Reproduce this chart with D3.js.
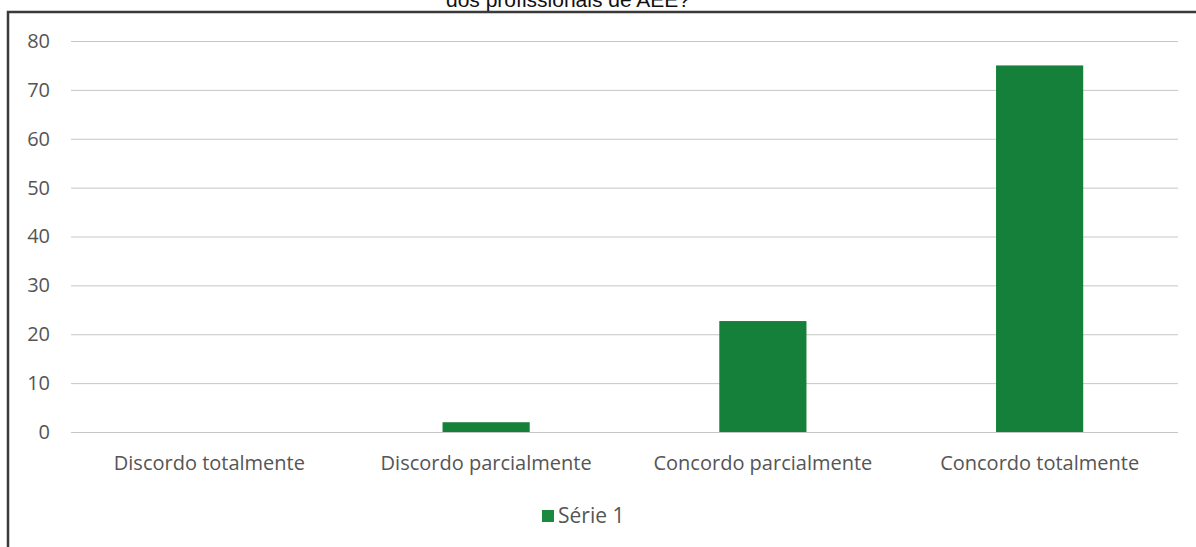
<!DOCTYPE html>
<html>
<head>
<meta charset="utf-8">
<script src="https://cdn.jsdelivr.net/npm/d3@7"></script>
<style>
  html, body { margin: 0; padding: 0; background: #fff; }
  svg { display: block; }
</style>
</head>
<body>
<svg id="chart" width="1196" height="547"></svg>
<script>
// Chart data
const categories = ["Discordo totalmente", "Discordo parcialmente", "Concordo parcialmente", "Concordo totalmente"];
const serie1 = [0, 2, 22.7, 75];
const yTicks = [0, 10, 20, 30, 40, 50, 60, 70, 80];
const seriesName = "Série 1";
const titleText = "dos profissionais de AEE?";

const W = 1196, H = 547;
const margin = { left: 71, right: 18, top: 41, bottom: 115 };
const svg = d3.select("#chart");
const font = "'Open Sans', 'Noto Sans', sans-serif";

// Frame around the chart area
svg.append("path")
  .attr("d", `M8,${H} L8,12 L${W},12`)
  .attr("fill", "none")
  .attr("stroke", "#3a3a3a")
  .attr("stroke-width", 2.5);

// Title (its upper part runs past the top edge)
svg.append("text")
  .attr("x", 568).attr("y", 7)
  .attr("text-anchor", "middle")
  .attr("font-family", "'Liberation Sans', Arial, sans-serif")
  .attr("font-size", 21)
  .attr("fill", "#111")
  .text(titleText);

const x = d3.scaleBand()
  .domain(categories)
  .range([margin.left, W - margin.right])
  .padding(0);

const y = d3.scaleLinear()
  .domain([0, 80])
  .range([H - margin.bottom, margin.top]);

// Gridlines and value axis labels
const yAxis = d3.axisLeft(y)
  .tickValues(yTicks)
  .tickSize(-(W - margin.right - margin.left))
  .tickPadding(21)
  .tickFormat(d3.format("d"));

const gy = svg.append("g")
  .attr("transform", `translate(${margin.left},0)`)
  .call(yAxis);
gy.select(".domain").remove();
gy.selectAll(".tick line").attr("stroke", "#c6c6c6").attr("stroke-width", 1);
gy.selectAll(".tick text")
  .attr("font-family", font)
  .attr("font-size", 20)
  .attr("fill", "#555");

// Bars
const barW = x.bandwidth() * 0.315;
svg.append("g").selectAll("rect")
  .data(categories.map((c, i) => ({ c, v: serie1[i] })))
  .join("rect")
  .attr("x", d => x(d.c) + x.bandwidth() / 2 - barW / 2)
  .attr("y", d => y(d.v))
  .attr("width", barW)
  .attr("height", d => y(0) - y(d.v))
  .attr("fill", "#15803a");

// Category labels
const xAxis = d3.axisBottom(x).tickSize(0).tickPadding(24);
const gx = svg.append("g")
  .attr("transform", `translate(0,${y(0)})`)
  .call(xAxis);
gx.select(".domain").remove();
gx.selectAll(".tick text")
  .attr("font-family", font)
  .attr("font-size", 20)
  .attr("fill", "#555");

// Legend
const lg = svg.append("g").attr("transform", "translate(542,510)");
lg.append("rect").attr("width", 12).attr("height", 12).attr("fill", "#1a8a3e");
lg.append("text")
  .attr("x", 16).attr("y", 13)
  .attr("font-family", font)
  .attr("font-size", 21)
  .attr("fill", "#555")
  .text(seriesName);
</script>
</body>
</html>
